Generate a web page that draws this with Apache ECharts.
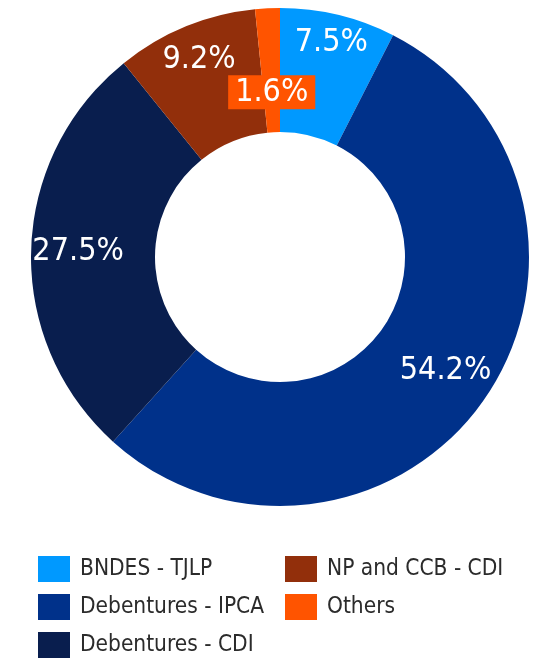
<!DOCTYPE html>
<html>
<head>
<meta charset="utf-8">
<title>Debt breakdown</title>
<script src="https://cdn.jsdelivr.net/npm/echarts@6/dist/echarts.min.js"></script>
<style>
  html, body { margin: 0; padding: 0; background: #fff; }
  #chart { width: 556px; height: 658px; }
</style>
</head>
<body>
<div id="chart"></div>
<script>
  // data
  var categories = ['BNDES - TJLP', 'Debentures - IPCA', 'Debentures - CDI', 'NP and CCB - CDI', 'Others']
  var shares = [7.5, 54.2, 27.5, 9.2, 1.6]
  var colors = ['#0099ff', '#00318a', '#091e4e', '#922f0b', '#ff5400']

  var font = '"DejaVu Sans Condensed", "DejaVu Sans", sans-serif'
  var cx = 280, cy = 257
  // how far out each label sits from the centre
  var labelRadius = [220, 201, 202, 213, 165]

  var chart = echarts.init(document.getElementById('chart'))

  var pieData = categories.map(function (name, i) {
    var item = { name: name, value: shares[i], itemStyle: { color: colors[i] } }
    if (name === 'Others') {
      item.label = { backgroundColor: colors[i], padding: [1, 7, 1, 7] }
    }
    return item
  })

  function makeLegend(names, left) {
    return {
      data: names,
      orient: 'vertical',
      left: left,
      top: 556,
      height: 140,
      padding: 0,
      itemWidth: 32,
      itemHeight: 26,
      itemGap: 12,
      icon: 'rect',
      selectedMode: false,
      textStyle: { color: '#2b2b2b', fontSize: 22.5, lineHeight: 26, fontFamily: font, padding: [0, 0, 0, 5] }
    }
  }

  chart.setOption({
    animation: false,
    legend: [
      makeLegend(categories.slice(0, 3), 38),
      makeLegend(categories.slice(3), 285)
    ],
    series: [{
      type: 'pie',
      center: [cx, cy],
      radius: [125, 249],
      startAngle: 90,
      avoidLabelOverlap: false,
      label: {
        show: true,
        position: 'inside',
        formatter: '{c}%',
        color: '#fff',
        fontSize: 32,
        lineHeight: 32,
        fontFamily: font
      },
      labelLine: { show: false },
      emphasis: { scale: false },
      labelLayout: function (p) {
        var r = p.labelRect
        var lx = r.x + r.width / 2 - cx
        var ly = r.y + r.height / 2 - cy
        var d = Math.sqrt(lx * lx + ly * ly)
        var k = labelRadius[p.dataIndex] / d - 1
        return { dx: lx * k, dy: ly * k }
      },
      data: pieData
    }]
  })
</script>
</body>
</html>
